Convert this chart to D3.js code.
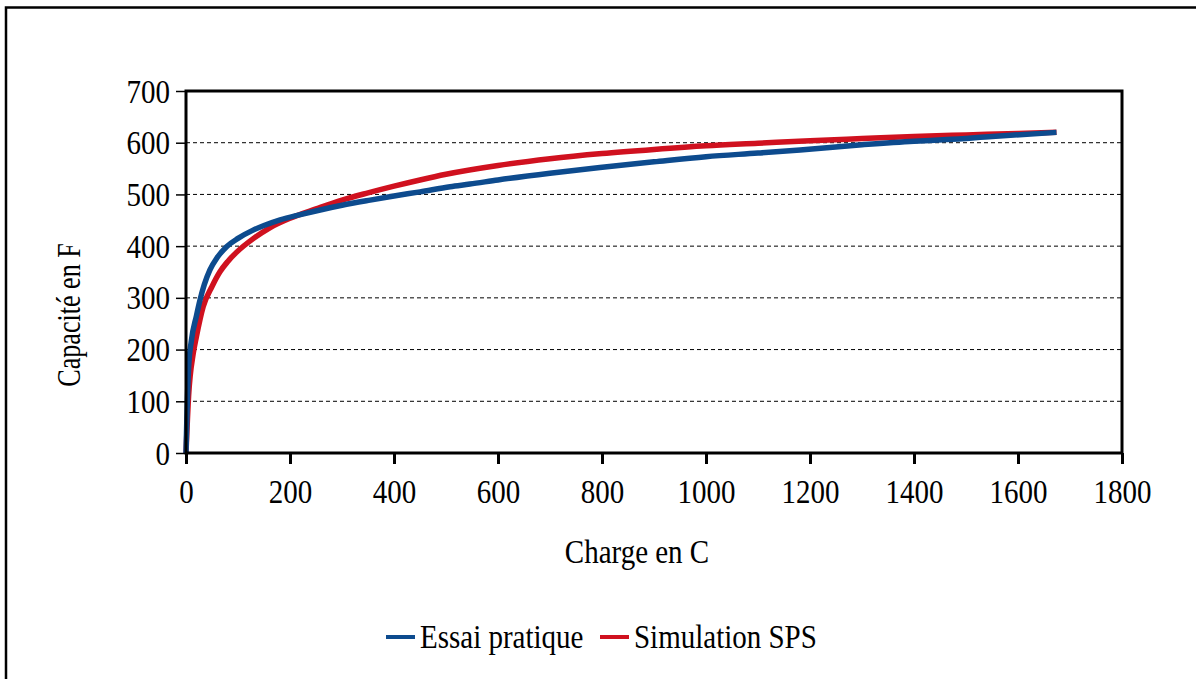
<!DOCTYPE html>
<html><head><meta charset="utf-8">
<script src="https://cdn.jsdelivr.net/npm/d3@7"></script>
<style>body{margin:0;background:#fff}svg{display:block}text{font-family:"Liberation Serif","Times New Roman",serif;fill:#000}</style>
</head><body><svg id="c" width="1196" height="679"></svg>
<script>
// Data
const essaiX = [0,2,5,10,20,27,35,46,60,78,100,129,150,181,220,258,300,354,400,450,508,546,600,700,796,900,1000,1100,1181,1300,1400,1463,1550,1674];
const essaiY = [0,80,165,215,265,296,325,354,378,399,415,431,440,451,461,470,479,489,497,505,515,520,528,541,552,563,573,580,586,596,603,606,612,620];
const simX = [0,5,14,20,33,50,65,80,97,130,162,200,250,300,350,400,450,500,600,700,800,900,1000,1100,1200,1300,1400,1500,1600,1674];
const simY = [0,110,193,225,283,322,350,370,388,415,436,454,472,489,503,516,528,539,556,569,579,587,594,599,604,608,612,615,618,620];
const xTicks = [0,200,400,600,800,1000,1200,1400,1600,1800];
const yTicks = [0,100,200,300,400,500,600,700];
const seriesNames = ["Essai pratique","Simulation SPS"];
const seriesColors = ["#0D4B8E","#D0111F"];

const FS = 29, SY = 1.16;
const svg = d3.select("#c");
const L=186,R=1122,T=91,B=453;
const x = d3.scaleLinear().domain([0,1800]).range([L,R]);
const y = d3.scaleLinear().domain([0,700]).range([B,T]);

function stretch(sel){
  sel.each(function(){
    const t=d3.select(this);
    const tx=+t.attr("x")||0, ty=+t.attr("y")||0;
    t.attr("x",null).attr("y",null).attr("dy",null)
     .attr("transform",`translate(${tx},${ty}) scale(1,${SY})`);
  });
}

// outer border
svg.append("path").attr("d","M6,679 V7.5 H1196").attr("fill","none").attr("stroke","#000").attr("stroke-width",2.5);

// grid
svg.append("g").selectAll("line").data(yTicks.filter(d=>d>0&&d<700)).join("line")
  .attr("x1",L).attr("x2",R).attr("y1",d=>y(d)).attr("y2",d=>y(d))
  .attr("stroke","#000").attr("stroke-width",1).attr("stroke-dasharray","4,3");

// lines
const line = d3.line().x(d=>x(d[0])).y(d=>y(d[1])).curve(d3.curveMonotoneX);
const sim = simX.map((v,i)=>[v,simY[i]]);
const ess = essaiX.map((v,i)=>[v,essaiY[i]]);
svg.append("path").datum(sim).attr("d",line).attr("fill","none").attr("stroke",seriesColors[1]).attr("stroke-width",5.5);
svg.append("path").datum(ess).attr("d",line).attr("fill","none").attr("stroke",seriesColors[0]).attr("stroke-width",5.5);

// axes
const yAxis = d3.axisLeft(y).tickValues(yTicks).tickSize(10).tickPadding(6).tickFormat(d3.format("d"));
const gy = svg.append("g").attr("transform",`translate(${L},0)`).call(yAxis);
gy.select(".domain").remove();
gy.selectAll("line").attr("stroke","#000").attr("stroke-width",1.5);
gy.selectAll("text").attr("font-size",FS).attr("font-family","Liberation Serif").attr("y",11);
stretch(gy.selectAll("text"));

const xAxis = d3.axisBottom(x).tickValues(xTicks).tickSize(11).tickPadding(8).tickFormat(d3.format("d"));
const gx = svg.append("g").attr("transform",`translate(0,${B})`).call(xAxis);
gx.select(".domain").remove();
gx.selectAll("line").attr("stroke","#000").attr("stroke-width",3);
gx.selectAll("text").attr("font-size",FS).attr("font-family","Liberation Serif").attr("y",50);
stretch(gx.selectAll("text"));

// frame
svg.append("rect").attr("x",L).attr("y",T).attr("width",R-L).attr("height",B-T).attr("fill","none").attr("stroke","#000").attr("stroke-width",3);

// titles
svg.append("text").attr("transform",`translate(80,315) rotate(-90) scale(0.9,${SY})`).attr("text-anchor","middle").attr("font-size",FS).text("Capacité en F");
svg.append("text").attr("transform",`translate(637,563) scale(1,${SY})`).attr("text-anchor","middle").attr("font-size",FS).text("Charge en C");

// legend
const legX = [386,600];
seriesNames.forEach((n,i)=>{
  const g = svg.append("g");
  g.append("line").attr("x1",legX[i]).attr("x2",legX[i]+29).attr("y1",637).attr("y2",637).attr("stroke",seriesColors[i]).attr("stroke-width",4);
  g.append("text").attr("transform",`translate(${legX[i]+34},648) scale(1,${SY})`).attr("font-size",FS).text(n);
});
</script></body></html>
